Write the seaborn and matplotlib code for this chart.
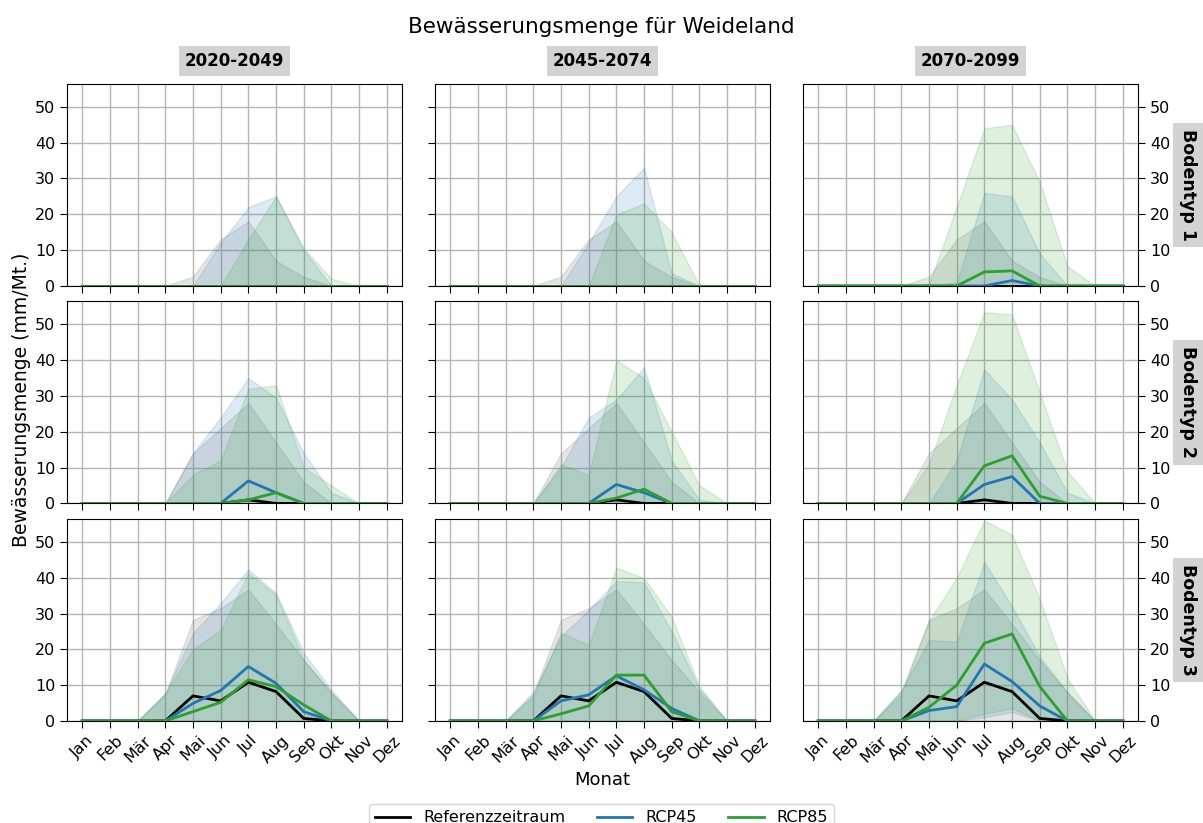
import numpy as np
import pandas as pd
import matplotlib
matplotlib.use("Agg")
import matplotlib.pyplot as plt
from matplotlib.lines import Line2D
import seaborn as sns

months = ["Jan", "Feb", "Mär", "Apr", "Mai", "Jun", "Jul", "Aug", "Sep", "Okt", "Nov", "Dez"]
periods = ["2020-2049", "2045-2074", "2070-2099"]
soils = ["Bodentyp 1", "Bodentyp 2", "Bodentyp 3"]
zeros = [0, 0, 0, 0, 0, 0, 0, 0, 0, 0, 0, 0]

# Referenzzeitraum (same for all periods)
ref_b1_mean = [0, 0, 0, 0, 0, 0, 0, 0, 0, 0, 0, 0]
ref_b1_max = [0, 0, 0, 0, 2.6, 13, 18, 7, 2.5, 0, 0, 0]
ref_b2_mean = [0, 0, 0, 0, 0, 0, 1, 0, 0, 0, 0, 0]
ref_b2_max = [0, 0, 0, 0, 14, 21, 28, 17, 6, 0, 0, 0]
ref_b3_mean = [0, 0, 0, 0, 7, 5.6, 10.8, 8.2, 0.7, 0, 0, 0]
ref_b3_max = [0, 0, 0, 7.5, 28.2, 31.5, 36.7, 27, 17, 8, 0, 0]

# RCP45
rcp45_b1_2020_mean = [0, 0, 0, 0, 0, 0, 0, 0, 0, 0, 0, 0]
rcp45_b1_2020_max = [0, 0, 0, 0, 0, 12, 22, 25, 10, 0, 0, 0]
rcp45_b1_2045_mean = [0, 0, 0, 0, 0, 0, 0, 0, 0, 0, 0, 0]
rcp45_b1_2045_max = [0, 0, 0, 0, 0, 12, 25, 33, 3.5, 0, 0, 0]
rcp45_b1_2070_mean = [0, 0, 0, 0, 0, 0, 0, 1.5, 0, 0, 0, 0]
rcp45_b1_2070_max = [0, 0, 0, 0, 0, 1, 26, 25, 9, 0, 0, 0]
rcp45_b2_2020_mean = [0, 0, 0, 0, 0, 0, 6.3, 3, 0, 0, 0, 0]
rcp45_b2_2020_max = [0, 0, 0, 0, 14, 24, 35, 29.5, 14, 3, 0, 0]
rcp45_b2_2045_mean = [0, 0, 0, 0, 0, 0, 5.3, 3, 0, 0, 0, 0]
rcp45_b2_2045_max = [0, 0, 0, 0, 10, 24, 29, 38, 12, 1, 0, 0]
rcp45_b2_2070_mean = [0, 0, 0, 0, 0, 0, 5.3, 7.5, 0, 0, 0, 0]
rcp45_b2_2070_max = [0, 0, 0, 0, 0, 12, 37.4, 29, 17, 3, 0, 0]
rcp45_b3_2020_mean = [0, 0, 0, 0, 4.9, 8.5, 15.2, 10.5, 2.6, 0, 0, 0]
rcp45_b3_2020_max = [0, 0, 0, 7.7, 24.5, 32.9, 42.3, 35.7, 19, 8.7, 0, 0]
rcp45_b3_2045_mean = [0, 0, 0, 0, 5.6, 7.3, 12.6, 8.7, 3.5, 0, 0, 0]
rcp45_b3_2045_max = [0, 0, 0, 8.2, 23.6, 31, 39.1, 38.7, 25, 9, 0, 0]
rcp45_b3_2070_mean = [0, 0, 0, 0, 2.9, 4.0, 15.9, 11, 4.2, 0, 0, 0]
rcp45_b3_2070_max = [0, 0, 0, 8.5, 22.6, 22.2, 44.4, 32, 18, 8, 0, 0]
rcp45_b3_2070_min = [0, 0, 0, 0, 0, 0, 1, 2.5, 0, 0, 0, 0]

# RCP85
rcp85_b1_2020_mean = [0, 0, 0, 0, 0, 0, 0, 0, 0, 0, 0, 0]
rcp85_b1_2020_max = [0, 0, 0, 0, 0, 0, 13, 25, 10.5, 2, 0, 0]
rcp85_b1_2045_mean = [0, 0, 0, 0, 0, 0, 0, 0, 0, 0, 0, 0]
rcp85_b1_2045_max = [0, 0, 0, 0, 0, 0, 20, 23, 15, 0, 0, 0]
rcp85_b1_2070_mean = [0, 0, 0, 0, 0, 0, 3.9, 4.2, 0, 0, 0, 0]
rcp85_b1_2070_max = [0, 0, 0, 0, 0.5, 22, 44, 45, 29, 5.5, 0, 0]
rcp85_b2_2020_mean = [0, 0, 0, 0, 0, 0, 1, 3, 0, 0, 0, 0]
rcp85_b2_2020_max = [0, 0, 0, 0, 8, 12, 32, 33, 10, 5, 0, 0]
rcp85_b2_2045_mean = [0, 0, 0, 0, 0, 0, 1.5, 4, 0, 0, 0, 0]
rcp85_b2_2045_max = [0, 0, 0, 0, 11, 8, 40, 35, 20, 5, 0, 0]
rcp85_b2_2070_mean = [0, 0, 0, 0, 0, 0, 10.5, 13.3, 2, 0, 0, 0]
rcp85_b2_2070_max = [0, 0, 0, 0, 11, 33, 53.4, 52.8, 31, 9, 0, 0]
rcp85_b3_2020_mean = [0, 0, 0, 0, 2.6, 5.2, 11.5, 9.6, 4.5, 0, 0, 0]
rcp85_b3_2020_max = [0, 0, 0, 7.7, 20, 25.4, 41.3, 35.2, 17, 7.7, 0, 0]
rcp85_b3_2045_mean = [0, 0, 0, 0, 2, 4.2, 12.8, 12.8, 2.6, 0, 0, 0]
rcp85_b3_2045_max = [0, 0, 0, 6.8, 24.7, 21.2, 42.8, 39.9, 29, 9.6, 0, 0]
rcp85_b3_2070_mean = [0, 0, 0, 0, 3.8, 10, 21.7, 24.3, 9.6, 0, 0, 0]
rcp85_b3_2070_max = [0, 0, 0, 8.5, 28, 40, 56, 52, 34, 12, 0, 0]
rcp85_b3_2070_min = [0, 0, 0, 0, 0, 0, 2, 3.5, 0, 0, 0, 0]

ref = {
    0: (ref_b1_mean, zeros, ref_b1_max),
    1: (ref_b2_mean, zeros, ref_b2_max),
    2: (ref_b3_mean, zeros, ref_b3_max),
}
rcp45 = {
    (0, 0): (rcp45_b1_2020_mean, zeros, rcp45_b1_2020_max),
    (0, 1): (rcp45_b1_2045_mean, zeros, rcp45_b1_2045_max),
    (0, 2): (rcp45_b1_2070_mean, zeros, rcp45_b1_2070_max),
    (1, 0): (rcp45_b2_2020_mean, zeros, rcp45_b2_2020_max),
    (1, 1): (rcp45_b2_2045_mean, zeros, rcp45_b2_2045_max),
    (1, 2): (rcp45_b2_2070_mean, zeros, rcp45_b2_2070_max),
    (2, 0): (rcp45_b3_2020_mean, zeros, rcp45_b3_2020_max),
    (2, 1): (rcp45_b3_2045_mean, zeros, rcp45_b3_2045_max),
    (2, 2): (rcp45_b3_2070_mean, rcp45_b3_2070_min, rcp45_b3_2070_max),
}
rcp85 = {
    (0, 0): (rcp85_b1_2020_mean, zeros, rcp85_b1_2020_max),
    (0, 1): (rcp85_b1_2045_mean, zeros, rcp85_b1_2045_max),
    (0, 2): (rcp85_b1_2070_mean, zeros, rcp85_b1_2070_max),
    (1, 0): (rcp85_b2_2020_mean, zeros, rcp85_b2_2020_max),
    (1, 1): (rcp85_b2_2045_mean, zeros, rcp85_b2_2045_max),
    (1, 2): (rcp85_b2_2070_mean, zeros, rcp85_b2_2070_max),
    (2, 0): (rcp85_b3_2020_mean, zeros, rcp85_b3_2020_max),
    (2, 1): (rcp85_b3_2045_mean, zeros, rcp85_b3_2045_max),
    (2, 2): (rcp85_b3_2070_mean, rcp85_b3_2070_min, rcp85_b3_2070_max),
}

C_REF, C_45, C_85 = "black", "#1f77b4", "#2ca02c"
BAND = {"Referenzzeitraum": ("gray", 0.2), "RCP45": (C_45, 0.15), "RCP85": (C_85, 0.15)}
PAL = {"Referenzzeitraum": C_REF, "RCP45": C_45, "RCP85": C_85}

fig, axes = plt.subplots(3, 3, figsize=(12.03, 8.23), dpi=100, sharex=True, sharey=True)
fig.subplots_adjust(left=0.0557, right=0.946, top=0.898, bottom=0.124, wspace=0.0985, hspace=0.077)

x = np.arange(12)
for r in range(3):
    for c in range(3):
        ax = axes[r, c]
        series = {
            "Referenzzeitraum": ref[r],
            "RCP45": rcp45[(r, c)],
            "RCP85": rcp85[(r, c)],
        }
        rows = []
        for name, (mean, lo, hi) in series.items():
            col, a = BAND[name]
            ax.fill_between(x, lo, hi, color=col, alpha=a, lw=1)
            for i in range(12):
                rows.append({"Monat": i, "Wert": mean[i], "Szenario": name})
        df = pd.DataFrame(rows)
        sns.lineplot(data=df, x="Monat", y="Wert", hue="Szenario", palette=PAL,
                     hue_order=["Referenzzeitraum", "RCP45", "RCP85"],
                     lw=2, ax=ax, legend=False)
        ax.set_xlabel("")
        ax.set_ylabel("")
        ax.set_ylim(0, 56.4)
        ax.set_xticks(x)
        ax.set_xticklabels(months, rotation=45, ha="center")
        ax.set_yticks([0, 10, 20, 30, 40, 50])
        ax.grid(True, color="#b5b5b5", lw=1.0)
        ax.set_axisbelow(True)
        for s in ax.spines.values():
            s.set_color("black")
        ax.tick_params(axis="both", labelsize=11.5, length=5, color="black")
        if c == 2:
            ax.tick_params(axis="y", left=False, labelleft=False, right=True, labelright=True)
        elif c == 1:
            ax.tick_params(axis="y", left=True, labelleft=False)
        if r == 0:
            ax.set_title(periods[c], fontsize=12, fontweight="bold", pad=13,
                         bbox=dict(boxstyle="square,pad=0.35", facecolor="#d3d3d3", edgecolor="none"))
        if c == 2:
            ax.text(1.15, 0.5, soils[r], transform=ax.transAxes, rotation=-90,
                    ha="center", va="center", fontsize=12.5, fontweight="bold",
                    bbox=dict(boxstyle="square,pad=0.35", facecolor="#d3d3d3", edgecolor="none"))

fig.suptitle("Bewässerungsmenge für Weideland", fontsize=15.5, y=0.967, va="center")
fig.text(0.018, 1 - 400 / 823, "Bewässerungsmenge (mm/Mt.)", rotation=90, ha="center", va="center", fontsize=13.5)
fig.text(0.501, 0.052, "Monat", ha="center", va="center", fontsize=13)

handles = [Line2D([0], [0], color=C_REF, lw=2),
           Line2D([0], [0], color=C_45, lw=2),
           Line2D([0], [0], color=C_85, lw=2)]
fig.legend(handles, ["Referenzzeitraum", "RCP45", "RCP85"], loc="upper center",
           bbox_to_anchor=(0.5, 1 - 796 / 823), ncol=3, fontsize=11.5,
           frameon=True, handlelength=2.2, columnspacing=2.0)

fig.savefig("out.png", dpi=100)
